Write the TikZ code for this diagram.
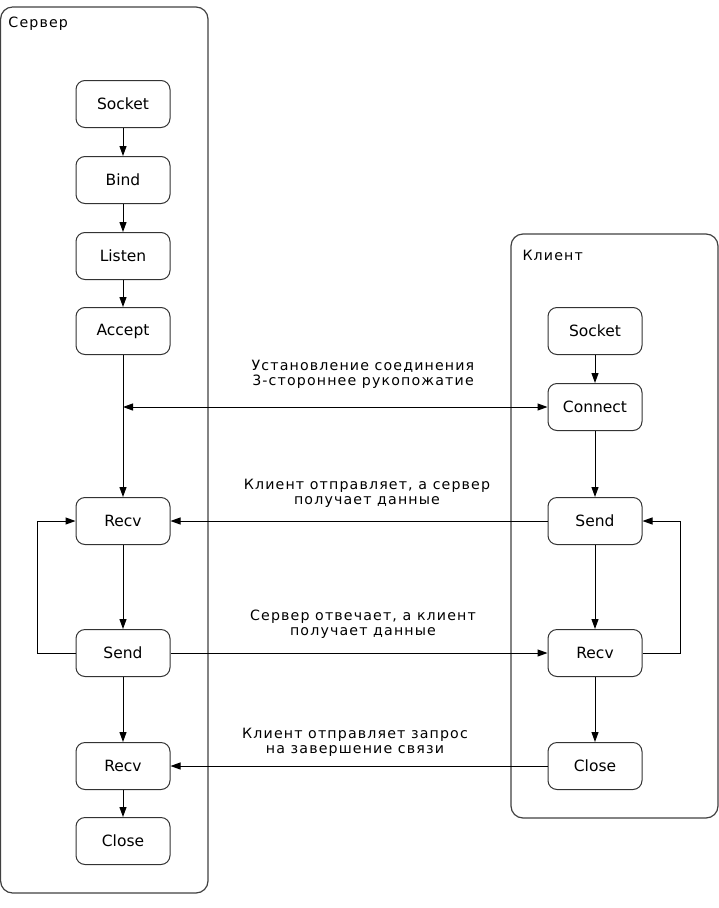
\documentclass[tikz,border=0pt]{standalone}
\usepackage{fontspec}
\setmainfont{DejaVu Sans}
\usetikzlibrary{arrows.meta}
\newcommand{\boxFont}{\fontsize{15.5}{17}\selectfont}
\newcommand{\noteFont}{\fontsize{14.2}{15}\selectfont\addfontfeature{LetterSpace=8}}

\begin{document}
\begin{tikzpicture}[x=1pt,y=-1pt, line width=1pt,
  stepbox/.style={draw=black!80, rounded corners=9pt, minimum width=94pt, minimum height=47pt, inner sep=0pt, font=\boxFont},
  frame/.style={draw=black!75, line width=1.2pt, rounded corners=12pt},
  flow/.style={-{Triangle[length=10pt,width=7pt]}},
  note/.style={align=center, inner sep=0pt, font=\noteFont}]
\useasboundingbox (0,0) rectangle (719,908);
% frames
\draw[frame] (0.6,7) rectangle (208,893);
\draw[frame] (511,234) rectangle (718,818);
\node[note, anchor=west] (srvTitle) at (8,24) {Сервер};
\node[note, anchor=west] (cliTitle) at (522,255) {Клиент};
% server side
\node[stepbox] (sSocket) at (123,104) {Socket};
\node[stepbox] (sBind) at (123,180) {Bind};
\node[stepbox] (sListen) at (123,256) {Listen};
\node[stepbox] (sAccept) at (123,331) {Accept};
\node[stepbox] (sRecv) at (123,521) {Recv};
\node[stepbox] (sSend) at (123,653) {Send};
\node[stepbox] (sRecvEnd) at (123,766) {Recv};
\node[stepbox] (sClose) at (123,841) {Close};
% client side
\node[stepbox] (cSocket) at (595,331) {Socket};
\node[stepbox] (cConnect) at (595,407) {Connect};
\node[stepbox] (cSend) at (595,521) {Send};
\node[stepbox] (cRecv) at (595,653) {Recv};
\node[stepbox] (cClose) at (595,766) {Close};
% vertical flow
\draw[flow] (sSocket) -- (sBind);
\draw[flow] (sBind) -- (sListen);
\draw[flow] (sListen) -- (sAccept);
\draw[flow] (sAccept) -- (sRecv);
\draw[flow] (sRecv) -- (sSend);
\draw[flow] (sSend) -- (sRecvEnd);
\draw[flow] (sRecvEnd) -- (sClose);
\draw[flow] (cSocket) -- (cConnect);
\draw[flow] (cConnect) -- (cSend);
\draw[flow] (cSend) -- (cRecv);
\draw[flow] (cRecv) -- (cClose);
% loops
\draw[flow] (sSend.west) -- ++(-38,0) |- (sRecv.west);
\draw[flow] (cRecv.east) -- ++(38,0) |- (cSend.east);
% exchange
\coordinate (shake) at (sAccept.south |- cConnect.west);
\draw[{Triangle[length=10pt,width=7pt]}-{Triangle[length=10pt,width=7pt]}] (shake) -- (cConnect.west);
\draw[flow] (cSend) -- (sRecv);
\draw[flow] (sSend) -- (cRecv);
\draw[flow] (cClose) -- (sRecvEnd);
% labels
\node[note] (lblShake) at (363,374) {Установление соединения\\3-стороннее рукопожатие};
\node[note] (lblSend) at (367,493) {Клиент отправляет, а сервер\\получает данные};
\node[note] (lblReply) at (363,624) {Сервер отвечает, а клиент\\получает данные};
\node[note] (lblClose) at (355,742) {Клиент отправляет запрос\\на завершение связи};
\end{tikzpicture}
\end{document}
